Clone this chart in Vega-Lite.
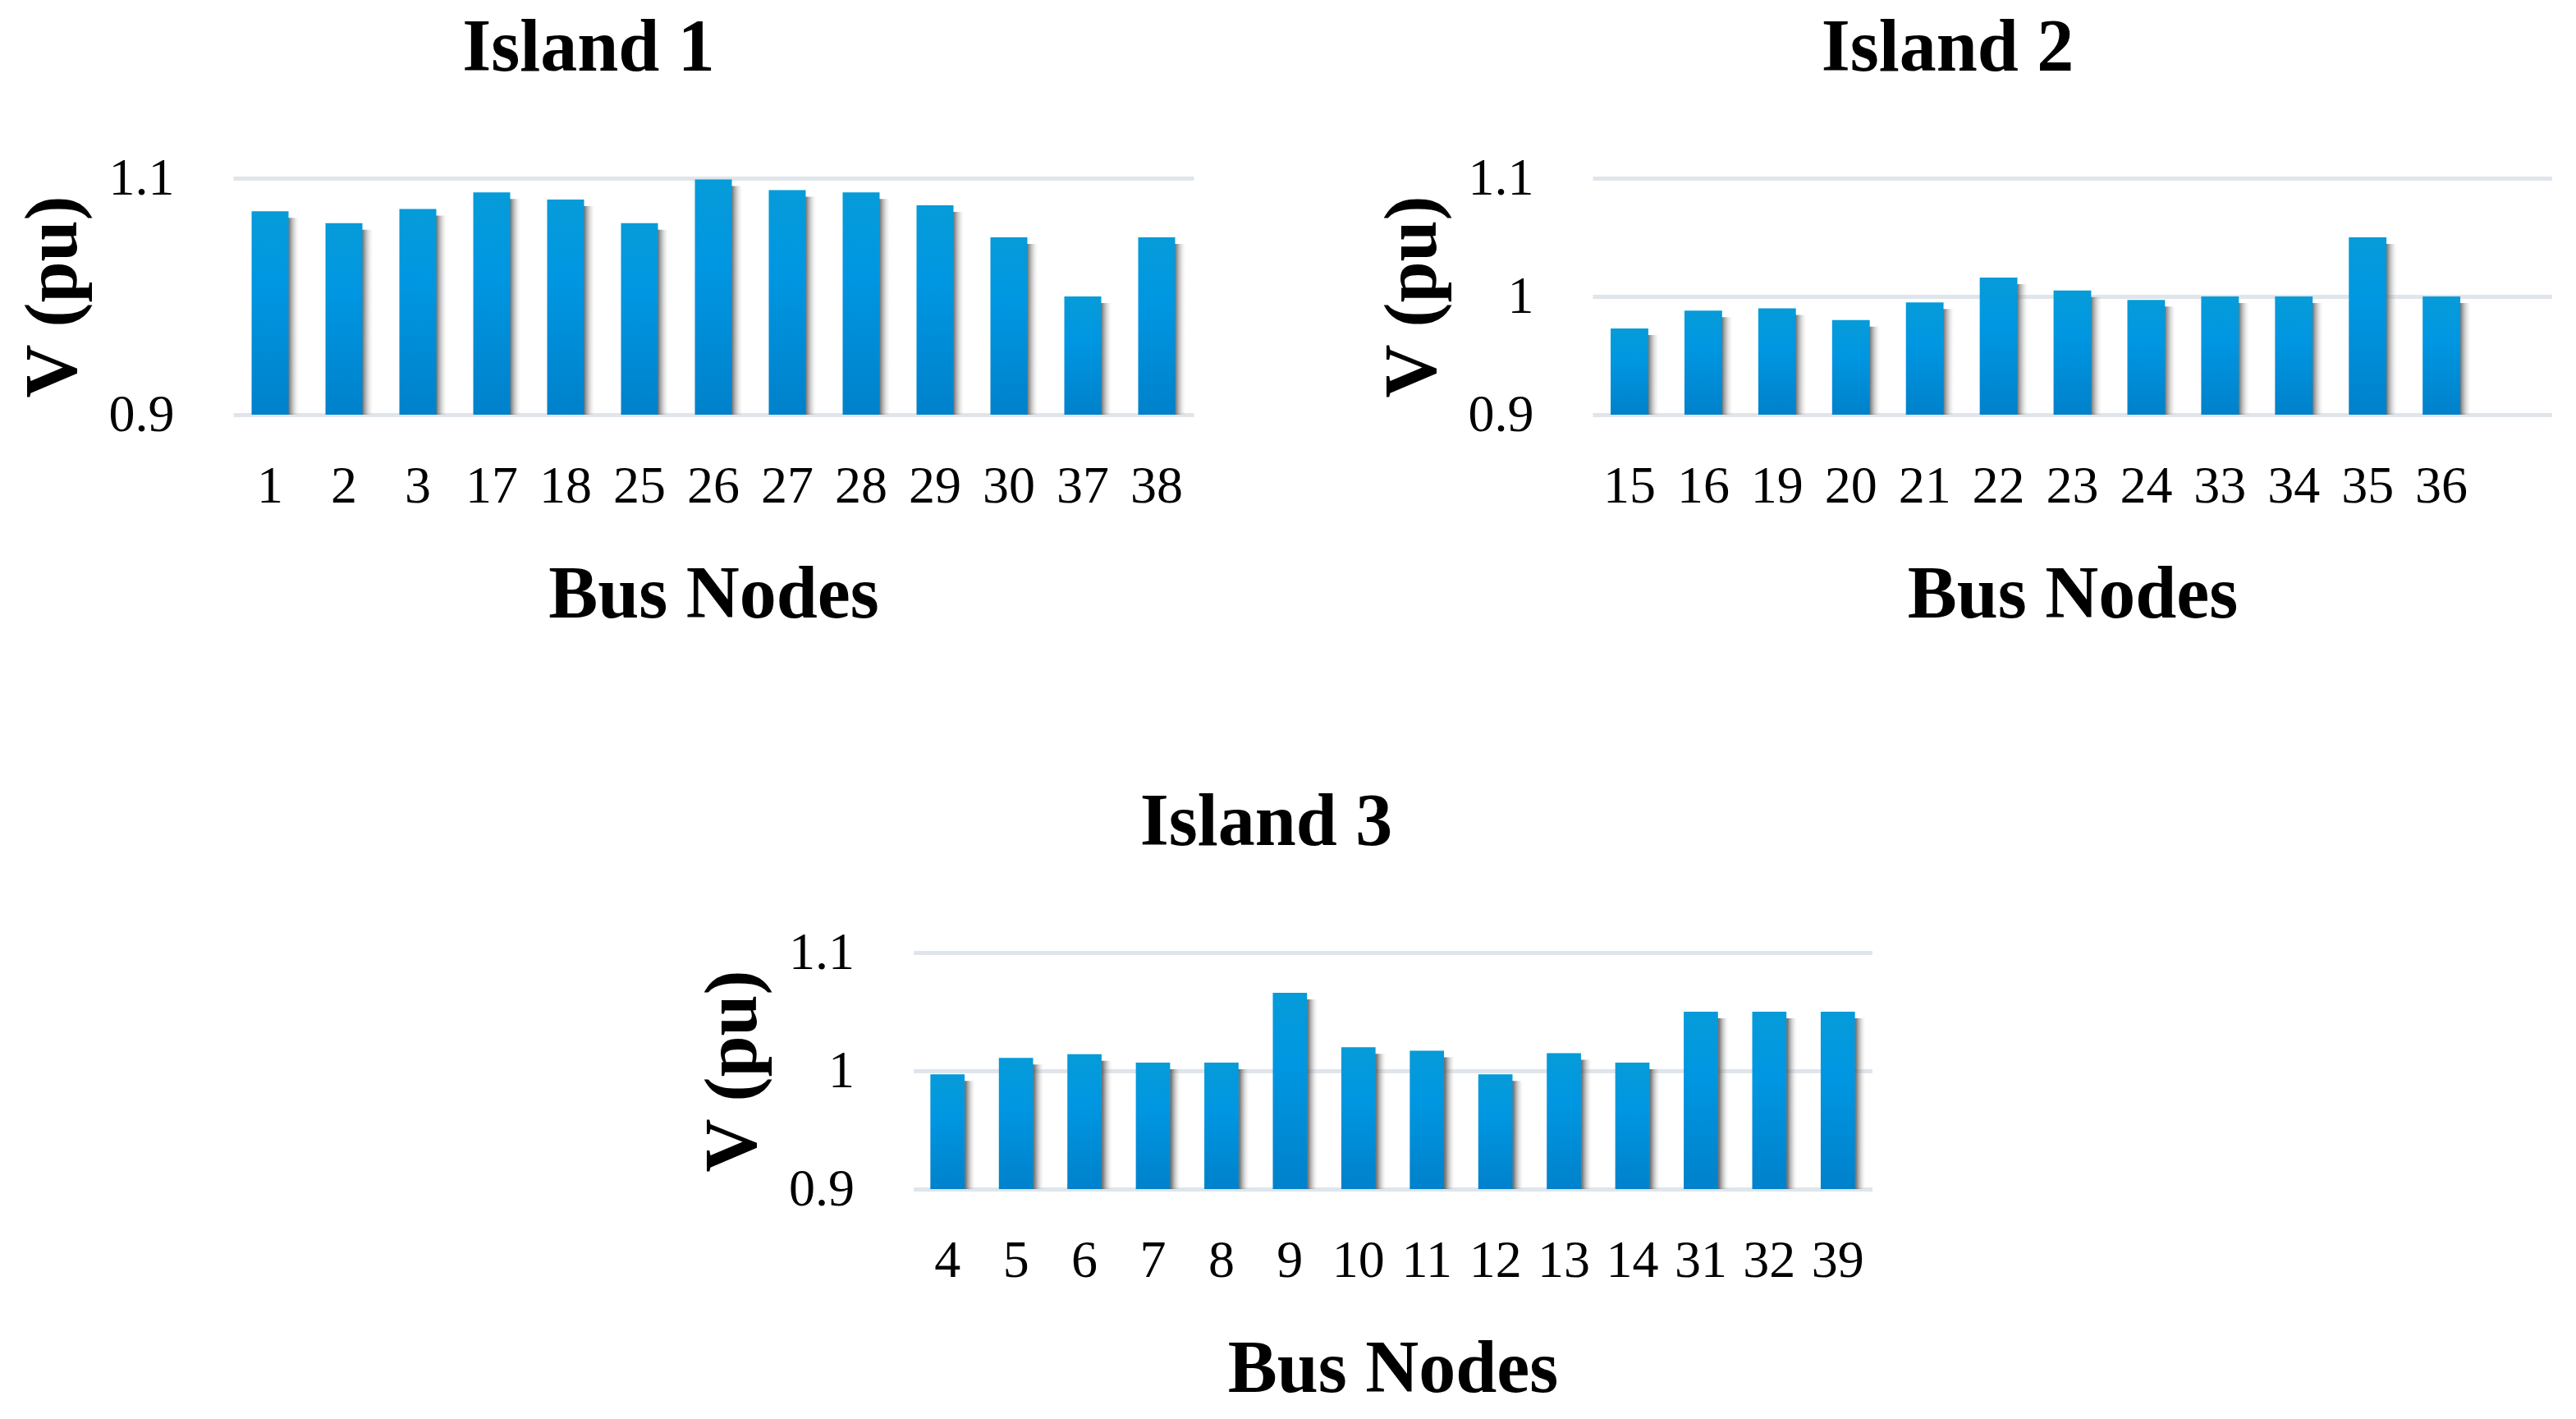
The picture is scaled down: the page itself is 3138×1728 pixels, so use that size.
{
  "$schema": "https://vega.github.io/schema/vega-lite/v6.json",
  "padding": {"left": 20, "top": 14, "right": 0, "bottom": 0},
  "background": "white",
  "data": {"values": [
    {"island": 1, "bus": "1", "v": 1.072},
    {"island": 1, "bus": "2", "v": 1.062},
    {"island": 1, "bus": "3", "v": 1.074},
    {"island": 1, "bus": "17", "v": 1.088},
    {"island": 1, "bus": "18", "v": 1.082},
    {"island": 1, "bus": "25", "v": 1.062},
    {"island": 1, "bus": "26", "v": 1.099},
    {"island": 1, "bus": "27", "v": 1.090},
    {"island": 1, "bus": "28", "v": 1.088},
    {"island": 1, "bus": "29", "v": 1.077},
    {"island": 1, "bus": "30", "v": 1.050},
    {"island": 1, "bus": "37", "v": 1.000},
    {"island": 1, "bus": "38", "v": 1.050},
    {"island": 2, "bus": "15", "v": 0.973},
    {"island": 2, "bus": "16", "v": 0.988},
    {"island": 2, "bus": "19", "v": 0.990},
    {"island": 2, "bus": "20", "v": 0.980},
    {"island": 2, "bus": "21", "v": 0.995},
    {"island": 2, "bus": "22", "v": 1.016},
    {"island": 2, "bus": "23", "v": 1.005},
    {"island": 2, "bus": "24", "v": 0.997},
    {"island": 2, "bus": "33", "v": 1.000},
    {"island": 2, "bus": "34", "v": 1.000},
    {"island": 2, "bus": "35", "v": 1.050},
    {"island": 2, "bus": "36", "v": 1.000},
    {"island": 3, "bus": "4", "v": 0.997},
    {"island": 3, "bus": "5", "v": 1.011},
    {"island": 3, "bus": "6", "v": 1.014},
    {"island": 3, "bus": "7", "v": 1.007},
    {"island": 3, "bus": "8", "v": 1.007},
    {"island": 3, "bus": "9", "v": 1.066},
    {"island": 3, "bus": "10", "v": 1.020},
    {"island": 3, "bus": "11", "v": 1.017},
    {"island": 3, "bus": "12", "v": 0.997},
    {"island": 3, "bus": "13", "v": 1.015},
    {"island": 3, "bus": "14", "v": 1.007},
    {"island": 3, "bus": "31", "v": 1.050},
    {"island": 3, "bus": "32", "v": 1.050},
    {"island": 3, "bus": "39", "v": 1.050}
  ]},
  "config": {
    "view": {"stroke": null},
    "axis": {
      "labelFont": "Liberation Serif", "labelFontSize": 64, "labelColor": "#000",
      "titleFont": "Liberation Serif", "titleFontSize": 90, "titleFontWeight": "bold", "titleColor": "#000",
      "domain": false, "ticks": false, "gridColor": "#dfe5eb", "gridWidth": 5
    },
    "axisX": {"grid": false, "labelAngle": 0, "labelPadding": 55, "titlePadding": 56},
    "axisY": {"labelPadding": 72, "titlePadding": 21, "format": "~g"},
    "title": {"font": "Liberation Serif", "fontSize": 90, "fontWeight": "bold", "color": "#000", "frame": "bounds", "anchor": "middle", "offset": 80, "dx": -20}
  },
  "vconcat": [
    {
      "hconcat": [
        {
          "width": 1170, "height": 288,
          "title": "Island 1",
          "transform": [{"filter": "datum.island == 1"}],
          "encoding": {
            "x": {"field": "bus", "type": "nominal", "scale": {"domain": ["1","2","3","17","18","25","26","27","28","29","30","37","38"], "paddingInner": 0.5, "paddingOuter": 0.25}, "axis": {"title": "Bus Nodes"}},
            "y": {"field": "v", "type": "quantitative", "scale": {"domain": [0.9, 1.1], "nice": false, "zero": false}, "axis": {"title": "V (pu)", "values": [0.9, 1.1]}},
            "y2": {"datum": 0.9}
          },
          "layer": [
            {"mark": {"type": "bar", "xOffset": 13, "yOffset": 8, "opacity": 0.75, "fill": {"gradient": "linear", "x1": 0, "y1": 0, "x2": 1, "y2": 0, "stops": [{"offset": 0, "color": "#3c3c3c"}, {"offset": 0.72, "color": "#4a4a4a"}, {"offset": 1, "color": "rgba(220,220,220,0)"}]}}},
            {"mark": {"type": "bar", "fill": {"gradient": "linear", "x1": 0, "y1": 0, "x2": 0, "y2": 1, "stops": [{"offset": 0, "color": "#069bd8"}, {"offset": 0.35, "color": "#0097e2"}, {"offset": 1, "color": "#0081cb"}]}}}
          ]
        },
        {
          "width": 1169, "height": 288,
          "title": "Island 2",
          "transform": [{"filter": "datum.island == 2"}],
          "encoding": {
            "x": {"field": "bus", "type": "nominal", "scale": {"domain": ["15","16","19","20","21","22","23","24","33","34","35","36",""], "paddingInner": 0.49, "paddingOuter": 0.245}, "axis": {"title": "Bus Nodes"}},
            "y": {"field": "v", "type": "quantitative", "scale": {"domain": [0.9, 1.1], "nice": false, "zero": false}, "axis": {"title": "V (pu)", "values": [0.9, 1.0, 1.1]}},
            "y2": {"datum": 0.9}
          },
          "layer": [
            {"mark": {"type": "bar", "xOffset": 13, "yOffset": 8, "opacity": 0.75, "fill": {"gradient": "linear", "x1": 0, "y1": 0, "x2": 1, "y2": 0, "stops": [{"offset": 0, "color": "#3c3c3c"}, {"offset": 0.72, "color": "#4a4a4a"}, {"offset": 1, "color": "rgba(220,220,220,0)"}]}}},
            {"mark": {"type": "bar", "fill": {"gradient": "linear", "x1": 0, "y1": 0, "x2": 0, "y2": 1, "stops": [{"offset": 0, "color": "#069bd8"}, {"offset": 0.35, "color": "#0097e2"}, {"offset": 1, "color": "#0081cb"}]}}}
          ]
        }
      ],
      "spacing": 222
    },
    {
      "width": 1168, "height": 288,
      "title": {"text": "Island 3", "dx": -22},
      "transform": [{"filter": "datum.island == 3"}],
      "encoding": {
        "x": {"field": "bus", "type": "nominal", "scale": {"domain": ["4","5","6","7","8","9","10","11","12","13","14","31","32","39"], "paddingInner": 0.5, "paddingOuter": 0.25}, "axis": {"title": "Bus Nodes"}},
        "y": {"field": "v", "type": "quantitative", "scale": {"domain": [0.9, 1.1], "nice": false, "zero": false}, "axis": {"title": "V (pu)", "values": [0.9, 1.0, 1.1]}},
        "y2": {"datum": 0.9}
      },
      "layer": [
        {"mark": {"type": "bar", "xOffset": 13, "yOffset": 8, "opacity": 0.75, "fill": {"gradient": "linear", "x1": 0, "y1": 0, "x2": 1, "y2": 0, "stops": [{"offset": 0, "color": "#3c3c3c"}, {"offset": 0.72, "color": "#4a4a4a"}, {"offset": 1, "color": "rgba(220,220,220,0)"}]}}},
        {"mark": {"type": "bar", "fill": {"gradient": "linear", "x1": 0, "y1": 0, "x2": 0, "y2": 1, "stops": [{"offset": 0, "color": "#069bd8"}, {"offset": 0.35, "color": "#0097e2"}, {"offset": 1, "color": "#0081cb"}]}}}
      ]
    }
  ],
  "spacing": 188,
  "center": true
}
